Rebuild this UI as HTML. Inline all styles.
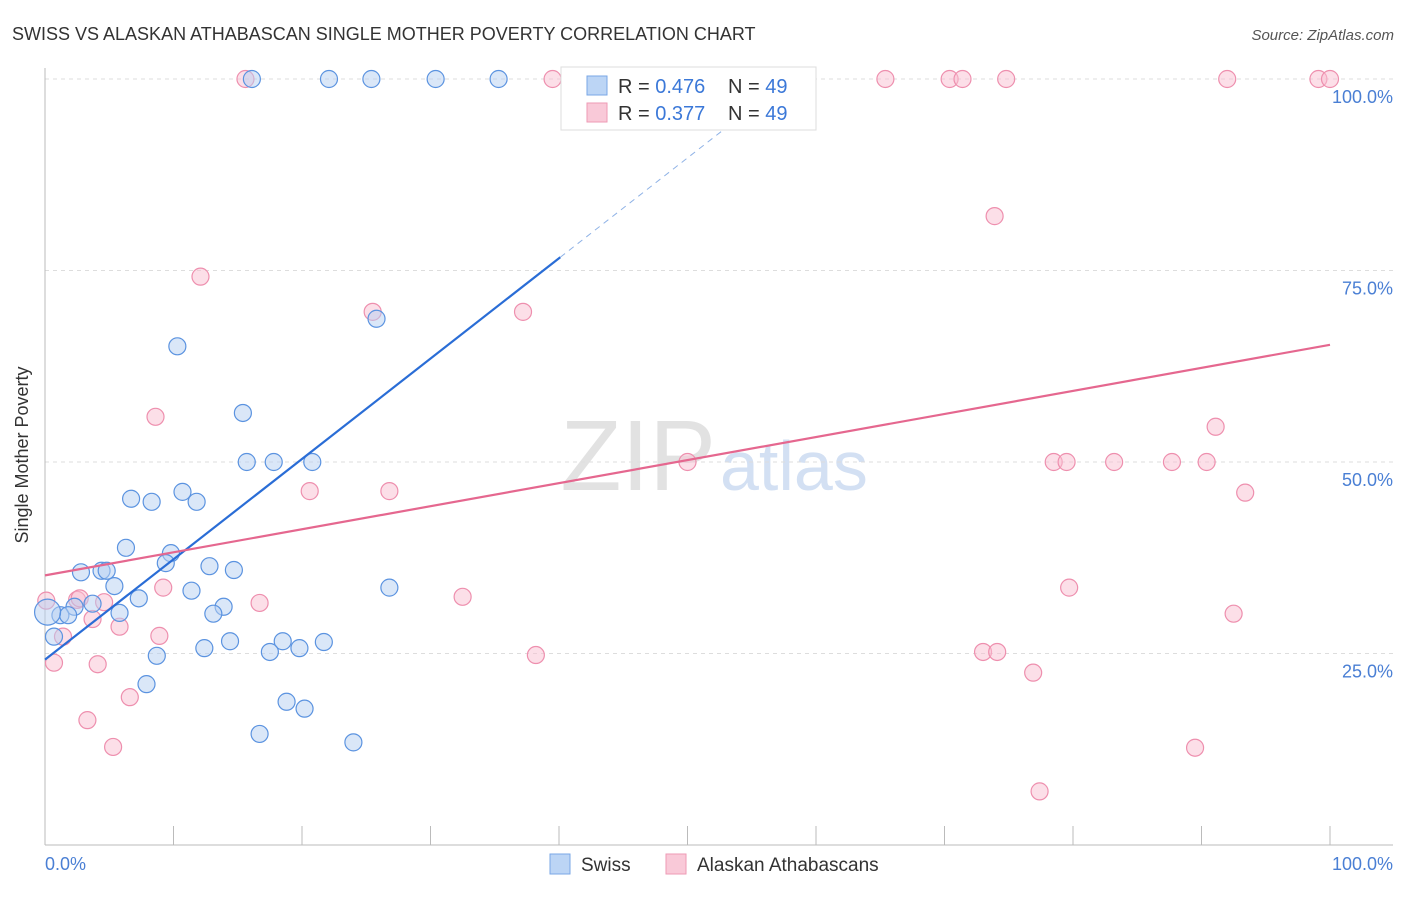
<!DOCTYPE html>
<html><head><meta charset="utf-8"><style>
body{margin:0;background:#fff;font-family:"Liberation Sans",sans-serif}
svg text{font-family:"Liberation Sans",sans-serif}
</style></head><body>
<svg id="chart" width="1406" height="892" xmlns="http://www.w3.org/2000/svg">
<text x="12" y="40" font-size="18" fill="#333">SWISS VS ALASKAN ATHABASCAN SINGLE MOTHER POVERTY CORRELATION CHART</text>
<text x="1394" y="40" font-size="15" fill="#555" font-style="italic" text-anchor="end">Source: ZipAtlas.com</text>
<text x="716" y="490" font-size="100" fill="#e2e2e2" text-anchor="end" font-family="Liberation Serif">ZIP</text>
<text x="720" y="490" font-size="70" fill="#d3e0f3">atlas</text>
<g id="grid"></g><g id="axes"></g><g id="pts"></g><g id="trends"></g>
<text x="28" y="455" font-size="18" fill="#333" text-anchor="middle" transform="rotate(-90 28 455)">Single Mother Poverty</text>
<text x="45" y="870" font-size="18" fill="#4a7fd4">0.0%</text>
<text x="1393" y="870" font-size="18" fill="#4a7fd4" text-anchor="end">100.0%</text>
<g>
<rect x="561" y="67" width="255" height="63" fill="#fff" stroke="#ddd"/>
<rect x="587" y="76" width="20" height="19" fill="#bcd5f5" stroke="#7aa7e6"/>
<rect x="587" y="103" width="20" height="19" fill="#f9c9d8" stroke="#ee9ab5"/>
<text x="618" y="93" font-size="20" fill="#333">R = <tspan fill="#3b78d8">0.476</tspan></text>
<text x="728" y="93" font-size="20" fill="#333">N = <tspan fill="#3b78d8">49</tspan></text>
<text x="618" y="120" font-size="20" fill="#333">R = <tspan fill="#3b78d8">0.377</tspan></text>
<text x="728" y="120" font-size="20" fill="#333">N = <tspan fill="#3b78d8">49</tspan></text>
</g>
<g>
<rect x="550" y="854" width="20" height="20" fill="#bcd5f5" stroke="#7aa7e6"/>
<text x="581" y="871" font-size="19" fill="#333">Swiss</text>
<rect x="666" y="854" width="20" height="20" fill="#f9c9d8" stroke="#ee9ab5"/>
<text x="697" y="871" font-size="19" fill="#333">Alaskan Athabascans</text>
</g>
</svg>
<script>
const yTicks=[25,50,75,100];
const yTickLabels=["25.0%","50.0%","75.0%","100.0%"];
const swissX=[16.1,22.1,25.4,30.4,35.3,25.8,10.3,15.4,15.7,17.8,20.8,10.7,6.7,8.3,11.8,6.3,9.8,9.4,12.8,14.7,2.8,4.4,4.8,5.4,11.4,7.3,26.8,2.3,3.7,13.9,5.8,13.1,1.2,1.8,0.2,0.7,14.4,18.5,21.7,12.4,17.5,19.8,8.7,7.9,18.8,20.2,16.7,24.0];
const swissY=[100,100,100,100,100,68.7,65.1,56.4,50,50,50,46.1,45.2,44.8,44.8,38.8,38.1,36.8,36.4,35.9,35.6,35.8,35.8,33.8,33.2,32.2,33.6,31.1,31.5,31.1,30.3,30.2,30,30,30.4,27.2,26.6,26.6,26.5,25.7,25.2,25.7,24.7,21.0,18.7,17.8,14.5,13.4];
const pinkX=[15.6,39.5,65.4,70.4,71.4,74.8,92.0,99.1,100,73.9,12.1,25.5,37.2,8.6,91.1,50.0,78.5,79.5,83.2,87.7,90.4,20.6,26.8,93.4,9.2,79.7,32.5,2.5,2.7,4.6,16.7,0.1,92.5,3.7,5.8,8.9,1.4,38.2,73.0,74.1,4.1,0.7,76.9,6.6,3.3,5.3,89.5,77.4];
const pinkY=[100,100,100,100,100,100,100,100,100,82.1,74.2,69.6,69.6,55.9,54.6,50,50,50,50,50,50,46.2,46.2,46.0,33.6,33.6,32.4,32.0,32.2,31.7,31.6,31.9,30.2,29.5,28.5,27.3,27.2,24.8,25.2,25.2,23.6,23.8,22.5,19.3,16.3,12.8,12.7,7.0];
const swissTrend=[24.2,1.31];
const pinkTrend=[35.2,0.301];
const NS="http://www.w3.org/2000/svg";
const X=v=>45+v*12.85, Y=v=>845-v*7.66;
function mk(p,t,a){const e=document.createElementNS(NS,t);for(const k in a)e.setAttribute(k,a[k]);document.getElementById(p).appendChild(e);return e;}
yTicks.forEach((t,i)=>{
 const l=mk('grid','line',{x1:45,x2:1393,y1:Y(t),y2:Y(t),stroke:'#ddd','stroke-dasharray':'4 4'});
 
 
 const tx=mk('grid','text',{x:1393,y:Y(t)+24,'font-size':18,fill:'#4a7fd4','text-anchor':'end'});
 tx.textContent=yTickLabels[i];
 
 
});
const ax=mk('axes','line',{x1:45,x2:45,y1:68,y2:845,stroke:'#bbb'});


const bx=mk('axes','line',{x1:45,x2:1393,y1:845,y2:845,stroke:'#bbb'});


for(let i=1;i<=10;i++){const t=mk('axes','line',{x1:X(i*10),x2:X(i*10),y1:826,y2:845,stroke:'#bbb'});
 
 }
function pts(xs,ys,fill,stroke,name){xs.forEach((x,i)=>{
 const c=mk('pts','circle',{cx:X(x),cy:Y(ys[i]),r:(x<0.5&&ys[i]<31&&ys[i]>30)?13:8.5,fill:fill,'fill-opacity':0.5,stroke:stroke,'stroke-width':1.2});
 
 });}
pts(pinkX,pinkY,'#f9c0d2','#ee8fae','alaskan-point');
pts(swissX,swissY,'#b6d0f2','#5b93e0','swiss-point');
const sEnd=40.1, sDash=(100-swissTrend[0])/swissTrend[1];
const s1=mk('trends','line',{x1:X(0),y1:Y(swissTrend[0]),x2:X(sEnd),y2:Y(swissTrend[0]+swissTrend[1]*sEnd),stroke:'#2a6dd6','stroke-width':2.2});


const s2=mk('trends','line',{x1:X(sEnd),y1:Y(swissTrend[0]+swissTrend[1]*sEnd),x2:X(sDash),y2:Y(100),stroke:'#8fb2e6','stroke-width':1,'stroke-dasharray':'6 5'});


const p1=mk('trends','line',{x1:X(0),y1:Y(pinkTrend[0]),x2:X(100),y2:Y(pinkTrend[0]+pinkTrend[1]*100),stroke:'#e5678f','stroke-width':2.2});


</script>
</body></html>
